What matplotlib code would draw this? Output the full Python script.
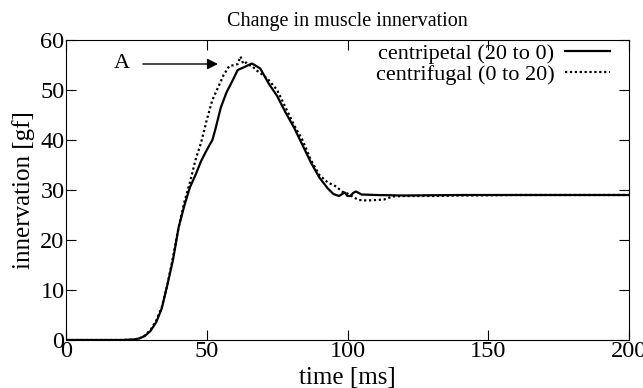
import matplotlib
matplotlib.use("Agg")
import matplotlib.pyplot as plt

plt.rcParams["font.family"] = ["Liberation Serif", "DejaVu Serif"]

# centripetal (20 to 0)
t_cp = [0, 10, 20, 24, 26, 28, 30, 32, 34, 36, 38, 40, 42, 44, 46, 48, 50, 52, 53,
        55, 57, 59, 61, 63, 66, 67, 69, 72, 75, 78, 81, 84, 87, 90, 93, 95, 97, 99,
        100, 101, 102, 103, 105, 110, 120, 140, 160, 180, 200]
y_cp = [0, 0, 0, 0.1, 0.3, 0.8, 1.8, 3.5, 6.3, 11, 16, 22.5, 26.8, 30.5, 33, 35.8,
        38, 40, 42, 46.5, 49.5, 51.7, 54, 54.5, 55.3, 55, 54.3, 51.3, 48.8, 45.5,
        42.5, 39, 35.5, 32.5, 30.3, 29.2, 28.8, 29.5, 28.8, 28.8, 29.4, 29.7, 29.1,
        29, 28.9, 29, 29, 29, 29]

# centrifugal (0 to 20)
t_cf = [0, 10, 20, 24, 26, 28, 30, 32, 34, 36, 38, 40, 42, 44, 46, 48, 50, 52, 54,
        56, 58, 60, 61, 62, 63, 64, 65, 66, 68, 70, 72, 75, 78, 81, 84, 87, 90, 93,
        96, 98, 100, 102, 104, 107, 110, 113, 116, 120, 130, 140, 160, 180, 200]
y_cf = [0, 0, 0, 0.1, 0.3, 0.9, 2, 3.8, 6.5, 11, 16.5, 22.5, 27.5, 31.5, 36, 39.5,
        44, 48, 50.5, 53, 54.8, 55, 55.2, 56.7, 55.2, 55.5, 55, 54.8, 53.8, 53, 52,
        50, 46.5, 43, 40, 36, 33, 31.5, 30.7, 29.7, 29.3, 28.6, 28, 27.9, 28, 28.1,
        28.7, 28.8, 28.8, 28.9, 29, 29, 29]

fig = plt.figure(figsize=(6.43, 3.88), dpi=100)
ax = fig.add_axes([66 / 643, 48 / 388, 563 / 643, 300 / 388])

ax.plot(t_cp, y_cp, color="black", lw=1.6, label="centripetal (20 to 0)")
ax.plot(t_cf, y_cf, color="black", lw=1.6, ls=(0, (1, 1.2)),
        label="centrifugal (0 to 20)")

ax.set_xlim(0, 200)
ax.set_ylim(0, 60)
ax.set_xticks([0, 50, 100, 150, 200])
ax.set_yticks(range(0, 61, 10))
ax.tick_params(direction="in", length=7, width=0.8, top=True, right=True,
               labelsize=17.5, pad=1)
for s in ax.spines.values():
    s.set_linewidth(0.8)

ax.set_title("Change in muscle innervation", fontsize=14.5, pad=10)
ax.set_xlabel("time [ms]", fontsize=18, labelpad=3)
ax.set_ylabel("innervation [gf]", fontsize=18, labelpad=4)

ax.annotate("A", xy=(54, 55.2), xytext=(20, 55.2), fontsize=16, va="center",
            ha="center",
            arrowprops=dict(arrowstyle="-|>", color="black", lw=1,
                            shrinkA=7, shrinkB=0))

ax.legend(loc="upper right", bbox_to_anchor=(0.966, 0.99), frameon=False,
          markerfirst=False, fontsize=16, handlelength=2.0, handletextpad=0.5,
          labelspacing=0.05, borderaxespad=0, borderpad=0)

fig.savefig("out.png", dpi=100)
